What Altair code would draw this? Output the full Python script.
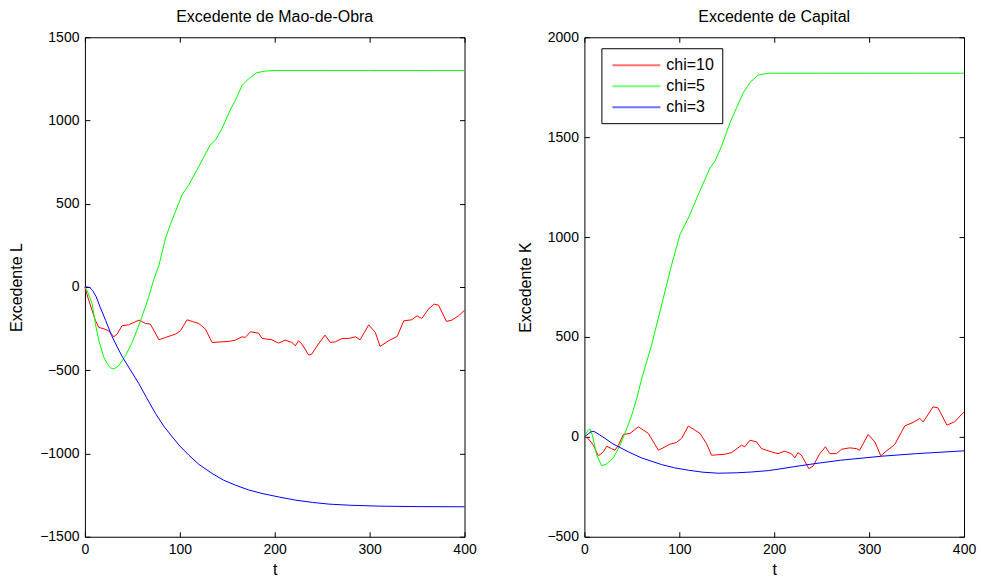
import altair as alt
import pandas as pd

# ---------------- data ----------------
SERIES = ["chi=10", "chi=5", "chi=3"]
COLORS = ["#ff0000", "#00ff00", "#0000ff"]
XTICKS = [0, 100, 200, 300, 400]
L_YTICKS = [-1500, -1000, -500, 0, 500, 1000, 1500]
K_YTICKS = [-500, 0, 500, 1000, 1500, 2000]

# Left panel: Excedente L
t_L_red = [0, 3, 7.7, 11, 14.7, 20, 25, 30.5, 34, 39, 46, 51.6, 57, 64, 69, 78, 85, 90, 95.5, 100.7,
           107.7, 113, 120, 127, 134, 151.6, 158.6, 165.6, 169, 174.4, 183, 186.7, 197, 204, 211,
           218, 221.8, 225, 228.7, 235.8, 239, 246, 253, 258.6, 264, 271, 278, 285, 290, 299,
           306, 311, 320, 329, 336, 344.5, 350, 355, 362, 368, 372.6, 381, 386.6, 393.7, 400]
v_L_red = [0, -60, -143, -200, -243, -251, -263, -299, -283, -233, -227, -213, -199, -219, -223,
           -317, -303, -293, -283, -263, -197, -207, -219, -253, -333, -327, -319, -299, -303, -269,
           -277, -309, -317, -337, -319, -333, -353, -323, -343, -409, -403, -343, -289, -333, -329,
           -309, -309, -299, -317, -227, -273, -357, -323, -297, -203, -197, -173, -189, -133, -103,
           -109, -207, -199, -173, -140]

t_L_green = [0, 3, 7.7, 11, 14.7, 20, 24, 27, 30.5, 35.8, 42.8, 49.8, 58.6, 67, 72.6, 78, 85, 90,
             95.5, 102.4, 109.5, 120, 132, 137.6, 144.5, 153, 158.6, 165.6, 172.6, 181, 190, 200,
             250, 300, 350, 400]
v_L_green = [0, -30, -103, -220, -323, -423, -465, -486, -492, -472, -412, -333, -203, -64, 46,
             130, 295, 375, 454, 554, 614, 723, 853, 883, 952, 1062, 1122, 1211, 1251, 1287, 1297,
             1300, 1300, 1300, 1300, 1300]

t_L_blue = [0, 3, 5, 8, 12, 16, 21.8, 28, 34, 40, 46, 56.8, 65, 74.4, 83, 92, 100, 109.5, 120,
            134, 146, 158.6, 172, 186.6, 205, 221.8, 240, 257, 280, 309, 350, 400]
v_L_blue = [0, 0, -3, -20, -60, -120, -200, -290, -360, -425, -480, -580, -665, -760, -835, -900,
            -955, -1010, -1065, -1120, -1160, -1190, -1218, -1240, -1262, -1280, -1294, -1304,
            -1311, -1316, -1319, -1320]

# Right panel: Excedente K
t_R_red = [0, 3, 6, 9.5, 14.7, 20, 23.5, 28.7, 32.3, 35.8, 41, 48, 56.8, 62, 67.4, 78, 85, 90, 97,
           102.4, 109.5, 116.5, 121.8, 128.7, 134, 148, 155, 165.6, 169, 174.4, 181.4, 186.6, 197,
           204, 211, 218, 221.8, 225, 228.7, 236.5, 241, 248, 254, 258.6, 265.6, 271, 279.7, 286.7,
           290, 299, 306, 312.3, 318, 327, 337.6, 346.3, 353.4, 357, 367.4, 372.6, 382, 390, 400]
v_R_red = [0, -5, -20, -42, -95, -75, -47, -59, -67, -42, 12, 17, 50, 34, 17, -67, -50, -37, -28,
           -8, 54, 34, 17, -34, -92, -87, -79, -42, -50, -17, -25, -59, -75, -84, -72, -84, -105,
           -79, -92, -159, -146, -84, -50, -84, -84, -62, -55, -59, -67, 12, -25, -95, -72, -38,
           55, 72, 92, 75, 150, 145, 59, 75, 125]

t_R_green = [0, 2, 4.2, 6, 8.4, 13, 18.2, 23.5, 30.5, 37.6, 44.5, 50, 55, 60.3, 70.8, 81.4, 91.9,
             100.7, 109.5, 120, 132.3, 137.6, 144.5, 153.4, 160.3, 167.4, 174.4, 183, 193.7, 250,
             300, 350, 400]
v_R_green = [0, 20, 34, 39, 8, -92, -145, -135, -105, -42, 40, 110, 190, 290, 460, 661, 861, 1012,
             1095, 1212, 1346, 1380, 1455, 1572, 1647, 1722, 1773, 1811, 1820, 1820, 1820, 1820, 1820]

t_R_blue = [0, 4, 7.7, 11, 16, 21.8, 30, 46.3, 60, 81.4, 95, 109.5, 125, 141, 160, 176, 193.7, 204,
            220, 242.8, 270, 313, 350, 400]
v_R_blue = [0, 15, 28, 25, 10, -8, -35, -75, -105, -139, -155, -167, -177, -182, -180, -176, -169,
            -162, -150, -134, -117, -97, -84, -70]

# ---------------- layout / style ----------------
W, H = 380, 500
FONT = "Liberation Sans"


def long_table(parts):
    rows = []
    for name, ts, vs in parts:
        for i, (t, v) in enumerate(zip(ts, vs)):
            rows.append({"serie": name, "t": t, "v": v, "i": i})
    return pd.DataFrame(rows)


df_L = long_table([("chi=10", t_L_red, v_L_red), ("chi=5", t_L_green, v_L_green),
                   ("chi=3", t_L_blue, v_L_blue)])
df_K = long_table([("chi=10", t_R_red, v_R_red), ("chi=5", t_R_green, v_R_green),
                   ("chi=3", t_R_blue, v_R_blue)])


def tick_axis(orient, offset, values):
    return alt.Axis(orient=orient, offset=offset, values=values, labels=False, domain=False,
                    grid=False, ticks=True, tickSize=5, tickColor="black", tickWidth=1, title=None)


def panel(df, ydomain, yticks, ytitle, title, title_x, legend):
    xs = alt.Scale(domain=[0, 400], nice=False, zero=False)
    ys = alt.Scale(domain=ydomain, nice=False, zero=False)
    base = alt.Chart(df)
    color = alt.Color("serie:N", scale=alt.Scale(domain=SERIES, range=COLORS), legend=legend)
    lines = base.mark_line(strokeWidth=1).encode(
        x=alt.X("t:Q", scale=xs,
                axis=alt.Axis(values=XTICKS, format="d", title="t", ticks=False, domain=False,
                              grid=False, labelPadding=6, titlePadding=5, labelFlush=False,
                              labelOverlap=False)),
        y=alt.Y("v:Q", scale=ys,
                axis=alt.Axis(values=yticks, format="d", title=ytitle, ticks=False, domain=False,
                              grid=False, labelPadding=6, labelOverlap=False, titleX=title_x,
                              titleY=H / 2, titleAlign="center", titleBaseline="middle",
                              titleAngle=270)),
        color=color,
        order=alt.Order("i:Q"),
    )
    pts = base.mark_point(opacity=0, size=1)
    x_in_bottom = pts.encode(x=alt.X("t:Q", scale=xs, axis=tick_axis("top", -H, XTICKS)),
                             y=alt.Y("v:Q", scale=ys, axis=None))
    x_in_top = pts.encode(x=alt.X("t:Q", scale=xs, axis=tick_axis("bottom", -H, XTICKS)),
                          y=alt.Y("v:Q", scale=ys, axis=None))
    y_in_left = pts.encode(x=alt.X("t:Q", scale=xs, axis=None),
                           y=alt.Y("v:Q", scale=ys, axis=tick_axis("right", -W, yticks)))
    y_in_right = pts.encode(x=alt.X("t:Q", scale=xs, axis=None),
                            y=alt.Y("v:Q", scale=ys, axis=tick_axis("left", -W, yticks)))
    return (
        alt.layer(lines, x_in_bottom, x_in_top, y_in_left, y_in_right)
        .resolve_axis(x="independent", y="independent")
        .properties(
            width=W, height=H,
            title=alt.TitleParams(title, fontSize=16, font=FONT, fontWeight="normal",
                                  anchor="middle", baseline="alphabetic", offset=-8,
                                  color="black"),
        )
    )


left = panel(df_L, [-1500, 1500], L_YTICKS, "Excedente L", "Excedente de Mao-de-Obra", -68, None)
right = panel(
    df_K, [-500, 2000], K_YTICKS, "Excedente K", "Excedente de Capital", -59,
    alt.Legend(title=None, orient="none", legendX=17, legendY=11,
               symbolType="M-3,0L3,0", symbolSize=256, symbolStrokeWidth=2,
               symbolOpacity=0.55, symbolOffset=18, labelOffset=21,
               labelFontSize=16, labelFont=FONT, labelColor="black",
               fillColor="white", strokeColor="black", padding=8, rowPadding=4),
)

chart = (
    alt.hconcat(left, right, spacing=120, bounds="flush")
    .resolve_legend(color="independent")
    .properties(padding={"left": 8, "top": 8, "right": 4, "bottom": 2}, background="white")
    .configure_view(stroke="black", strokeWidth=1)
    .configure_axis(labelFont=FONT, labelFontSize=14, labelColor="black", titleFont=FONT,
                    titleFontSize=16, titleFontWeight="normal", titleColor="black")
)

chart.save("out.html", embed_options={"renderer": "svg", "actions": False})
